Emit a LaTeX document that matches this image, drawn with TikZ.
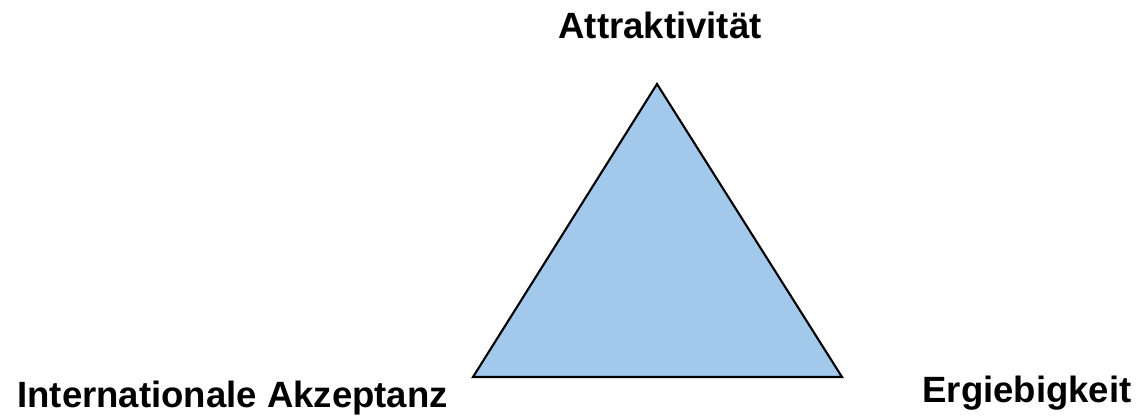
\documentclass[tikz,border=0pt]{standalone}
\usepackage{fontspec}
\setmainfont{Liberation Sans}
\usepackage{xcolor}
\usepackage{tikz}
\definecolor{triblue}{RGB}{162,200,236}

\begin{document}
\begin{tikzpicture}[x=0.02cm,y=-0.02cm,
		cornertext/.style={font=\bfseries\fontsize{20.8}{25}\selectfont,anchor=base,inner sep=0pt}]
		\useasboundingbox (0,0) rectangle (1140,416);
		\coordinate (A) at (657,84);
		\coordinate (L) at (473,377);
		\coordinate (R) at (842,377);
		\filldraw[fill=triblue,line width=1.2pt,line join=miter] (A)--(L)--(R)--cycle;
		\node[cornertext] (attr) at (660,38) {Attraktivität};
		\node[cornertext,anchor=base west] (akz) at (17,407.5) {Internationale Akzeptanz};
		\node[cornertext] (erg) at (1027,402) {Ergiebigkeit};
	\end{tikzpicture}
\end{document}
